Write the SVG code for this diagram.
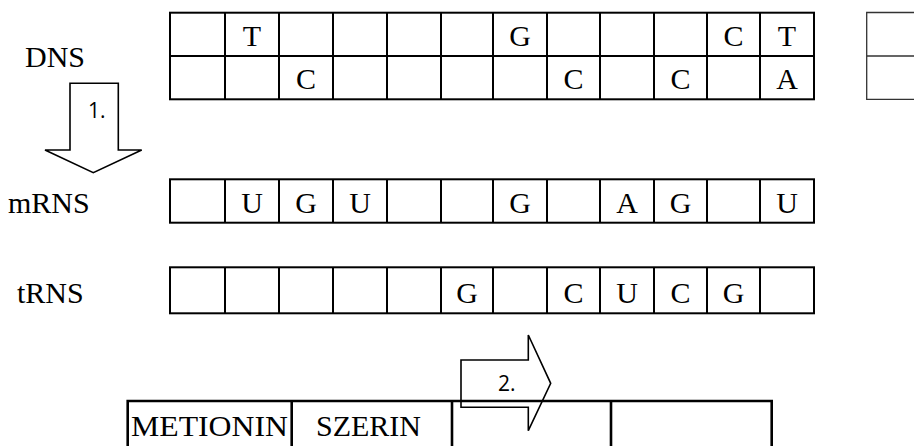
<svg xmlns="http://www.w3.org/2000/svg" width="914" height="446" viewBox="0 0 914 446">
<style>
.g{fill:none;stroke:#000;stroke-width:2}
.b{fill:none;stroke:#000;stroke-width:2.6}
.gray{fill:none;stroke:#333;stroke-width:1.3}
.t{font-family:"Liberation Serif","Times New Roman",serif;font-size:30px;fill:#000}
.c{text-anchor:middle}
.s{font-family:"Open Sans","Liberation Sans",Arial,sans-serif;font-size:21px;fill:#000}
.a{fill:none;stroke:#000;stroke-width:1.6;stroke-linejoin:miter}
</style>
<rect width="914" height="446" fill="#fff"/>

<g id="labels">
<text class="t" x="25" y="67">DNS</text>
<text class="t" x="8" y="213">mRNS</text>
<text class="t" x="17" y="303">tRNS</text>
</g>

<g id="dns">
<rect class="g" x="170" y="12.7" width="644" height="86.6"/>
<line class="g" x1="170" y1="56" x2="814" y2="56"/>
<path class="g" d="M225,12.7V99.3M279,12.7V99.3M333,12.7V99.3M387,12.7V99.3M441,12.7V99.3M493,12.7V99.3M547,12.7V99.3M600,12.7V99.3M654,12.7V99.3M707,12.7V99.3M760,12.7V99.3"/>
<text class="t c" x="252" y="46">T</text>
<text class="t c" x="520" y="46">G</text>
<text class="t c" x="733.5" y="46">C</text>
<text class="t c" x="787" y="46">T</text>
<text class="t c" x="306" y="89">C</text>
<text class="t c" x="573.5" y="89">C</text>
<text class="t c" x="680.5" y="89">C</text>
<text class="t c" x="787" y="89">A</text>
</g>

<g id="dns-extra">
<path class="gray" d="M914,12.5H866.7V99.3H914M866.7,56H914"/>
</g>

<g id="mrns">
<rect class="g" x="170" y="179.3" width="644" height="43.4"/>
<path class="g" d="M225,179.3V222.7M279,179.3V222.7M333,179.3V222.7M387,179.3V222.7M441,179.3V222.7M493,179.3V222.7M547,179.3V222.7M600,179.3V222.7M654,179.3V222.7M707,179.3V222.7M760,179.3V222.7"/>
<text class="t c" x="252" y="213">U</text>
<text class="t c" x="306" y="213">G</text>
<text class="t c" x="360" y="213">U</text>
<text class="t c" x="520" y="213">G</text>
<text class="t c" x="627" y="213">A</text>
<text class="t c" x="680.5" y="213">G</text>
<text class="t c" x="787" y="213">U</text>
</g>

<g id="trns">
<rect class="g" x="170" y="267.3" width="644" height="46"/>
<path class="g" d="M225,267.3V313.3M279,267.3V313.3M333,267.3V313.3M387,267.3V313.3M441,267.3V313.3M493,267.3V313.3M547,267.3V313.3M600,267.3V313.3M654,267.3V313.3M707,267.3V313.3M760,267.3V313.3"/>
<text class="t c" x="467" y="303">G</text>
<text class="t c" x="573.5" y="303">C</text>
<text class="t c" x="627" y="303">U</text>
<text class="t c" x="680.5" y="303">C</text>
<text class="t c" x="733.5" y="303">G</text>
</g>

<g id="protein">
<path class="b" d="M127.7,450V401H771.7V450M291.7,401V450M452,401V450M611,401V450"/>
<text class="t" x="131" y="436" textLength="157" lengthAdjust="spacingAndGlyphs">METIONIN</text>
<text class="t" x="316" y="436">SZERIN</text>
</g>

<g id="connectors">
<g id="arrow1">
<path class="a" d="M70,83.3H118.3V150H141.7L93.3,172.7L45,150H70Z"/>
<text class="s" x="88" y="118">1.</text>
</g>
<g id="arrow2">
<path class="a" d="M461,360H528.3V335L550.7,383.3L528.3,430.7V407.3H461Z"/>
<text class="s" x="498" y="391">2.</text>
</g>
</g>
</svg>
